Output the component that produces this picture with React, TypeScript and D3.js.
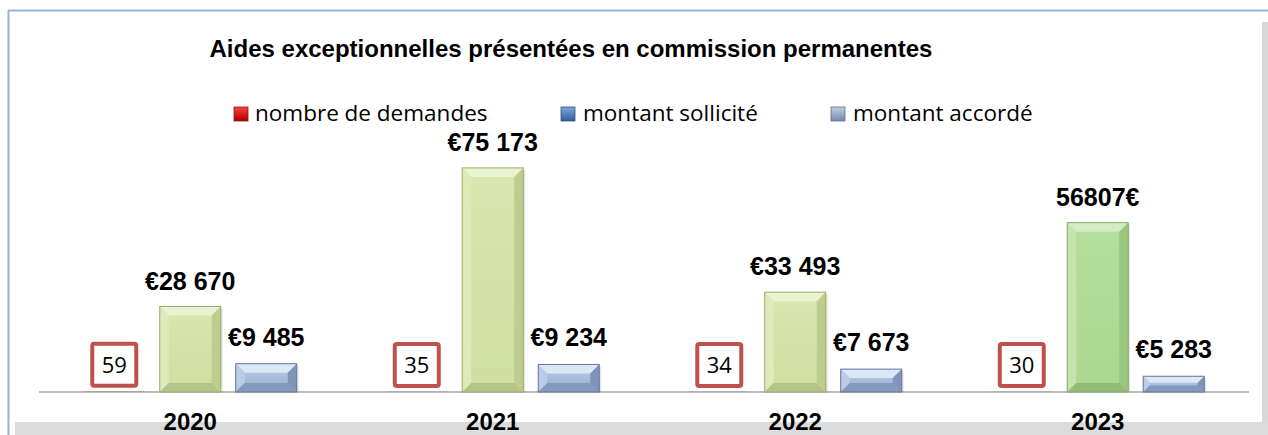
import { scaleBand, scaleLinear } from "d3";

const years = ["2020", "2021", "2022", "2023"];
const seriesNames = ["nombre de demandes", "montant sollicité", "montant accordé"];
const nombreDemandes = [59, 35, 34, 30];
const montantSollicite = [28670, 75173, 33493, 56807];
const montantAccorde = [9485, 9234, 7673, 5283];
const sollicitLabels = ["€28 670", "€75 173", "€33 493", "56807€"];
const accordeLabels = ["€9 485", "€9 234", "€7 673", "€5 283"];
const title = "Aides exceptionnelles présentées en commission permanentes";

const W = 1268;
const H = 435;
const baseY = 392;
const arial = "'Liberation Sans', Arial, sans-serif";
const body = "'Open Sans', 'Noto Sans', sans-serif";

type Pal = { top: string; left: string; right: string; bottom: string; grad: string; stroke: string };

const greenPal: Pal = { top: "#eaf2d2", left: "#dfeabb", right: "#bccd8e", bottom: "#b3c486", grad: "url(#gGreen)", stroke: "#9aad6c" };
const green23Pal: Pal = { top: "#d4ecc2", left: "#c4e4ad", right: "#9cc57f", bottom: "#93bc76", grad: "url(#gGreen23)", stroke: "#86ad6a" };
const bluePal: Pal = { top: "#dde8f7", left: "#bccbe6", right: "#8093b8", bottom: "#8599bf", grad: "url(#gBlue)", stroke: "#63779c" };

function BevelBar({ x, y, w, h, pal }: { x: number; y: number; w: number; h: number; pal: Pal }) {
  if (h <= 0.5) return null;
  const b = Math.min(9, h / 2.4, w / 2);
  const p = (pts: number[][]) => pts.map((q) => q.join(",")).join(" ");
  return (
    <g>
      <rect x={x + 2} y={y + 2} width={w} height={h - 2} fill="#000" opacity={0.1} />
      <rect x={x} y={y} width={w} height={h} fill={pal.grad} />
      <polygon points={p([[x, y], [x + w, y], [x + w - b, y + b], [x + b, y + b]])} fill={pal.top} />
      <polygon points={p([[x, y], [x + b, y + b], [x + b, y + h - b], [x, y + h]])} fill={pal.left} />
      <polygon points={p([[x + w, y], [x + w, y + h], [x + w - b, y + h - b], [x + w - b, y + b]])} fill={pal.right} />
      <polygon points={p([[x, y + h], [x + w, y + h], [x + w - b, y + h - b], [x + b, y + h - b]])} fill={pal.bottom} />
      <rect x={x} y={y} width={w} height={h} fill="none" stroke={pal.stroke} strokeWidth={1} />
    </g>
  );
}

export default function App() {
  const x0 = scaleBand<string>().domain(years).range([39, 1249]).padding(0);
  const x1 = scaleBand<string>()
    .domain(seriesNames)
    .range([0, x0.bandwidth()])
    .paddingInner(0.197)
    .paddingOuter(0.589);
  const y = scaleLinear().domain([0, 80000]).range([baseY, 153.5]);
  const bw = x1.bandwidth();

  const legendItems = [
    { name: seriesNames[0], sx: 234, tx: 255, fill: "url(#lRed)", stroke: "#8b1a1a" },
    { name: seriesNames[1], sx: 561, tx: 583, fill: "url(#lBlue)", stroke: "#2f5688" },
    { name: seriesNames[2], sx: 831, tx: 853, fill: "url(#lGray)", stroke: "#5d6f93" },
  ];

  return (
    <svg width={W} height={H} style={{ position: "absolute", left: 0, top: 0, background: "#fff" }}>
      <defs>
        <linearGradient id="gGreen" x1="0" y1="0" x2="0" y2="1">
          <stop offset="0" stopColor="#d9e6b0" />
          <stop offset="1" stopColor="#cfdea0" />
        </linearGradient>
        <linearGradient id="gGreen23" x1="0" y1="0" x2="0" y2="1">
          <stop offset="0" stopColor="#b6de9c" />
          <stop offset="1" stopColor="#acd690" />
        </linearGradient>
        <linearGradient id="gBlue" x1="0" y1="0" x2="0" y2="1">
          <stop offset="0" stopColor="#c0d0ea" />
          <stop offset="1" stopColor="#95a9cc" />
        </linearGradient>
        <linearGradient id="lRed" x1="0" y1="0" x2="0" y2="1">
          <stop offset="0" stopColor="#ff4040" />
          <stop offset="1" stopColor="#a80000" />
        </linearGradient>
        <linearGradient id="lBlue" x1="0" y1="0" x2="0" y2="1">
          <stop offset="0" stopColor="#7fa8dc" />
          <stop offset="1" stopColor="#2f5f9c" />
        </linearGradient>
        <linearGradient id="lGray" x1="0" y1="0" x2="0" y2="1">
          <stop offset="0" stopColor="#c3cfe6" />
          <stop offset="1" stopColor="#7587ad" />
        </linearGradient>
      </defs>

      {/* frame and shadow */}
      <rect x={1262} y={22} width={6} height={H - 22} fill="#d9d9d9" />
      <rect x={15} y={422} width={W - 15} height={H - 422} fill="#dcdcdc" />
      <line x1={8.5} y1={10} x2={8.5} y2={H} stroke="#95b3d7" strokeWidth={2} />
      <line x1={8} y1={10.5} x2={W} y2={10.5} stroke="#95b3d7" strokeWidth={2} />

      <text x={571} y={57} textAnchor="middle" fontFamily={arial} fontWeight="bold" fontSize={24} fill="#000">
        {title}
      </text>

      {legendItems.map((d) => (
        <g key={d.name}>
          <rect x={d.sx} y={107} width={14} height={14} fill={d.fill} stroke={d.stroke} strokeWidth={0.8} />
          <text x={d.tx} y={121} fontFamily={body} fontSize={22.5} fill="#000">
            {d.name}
          </text>
        </g>
      ))}

      <line x1={39} y1={baseY} x2={1249} y2={baseY} stroke="#a6a6a6" strokeWidth={1.5} />

      {years.map((yr, i) => {
        const gx = x0(yr) ?? 0;
        const rx = gx + (x1(seriesNames[0]) ?? 0);
        const sx = gx + (x1(seriesNames[1]) ?? 0);
        const ax = gx + (x1(seriesNames[2]) ?? 0);
        const ry = y(nombreDemandes[i]);
        const sy = y(montantSollicite[i]);
        const ay = y(montantAccorde[i]);
        const rc = rx + bw / 2;
        return (
          <g key={yr}>
            <rect x={rx} y={ry} width={bw} height={baseY - ry} fill="#c00000" />
            <BevelBar x={sx} y={sy} w={bw} h={baseY - sy} pal={i === years.length - 1 ? green23Pal : greenPal} />
            <BevelBar x={ax} y={ay} w={bw} h={baseY - ay} pal={bluePal} />

            <rect x={rc - 22} y={ry - 48} width={44} height={42} rx={2} fill="#fff" stroke="#c0504d" strokeWidth={4} />
            <text x={rc} y={ry - 19} textAnchor="middle" fontFamily={body} fontSize={22} fill="#000">
              {nombreDemandes[i]}
            </text>

            <text x={sx + bw / 2} y={sy - 17} textAnchor="middle" fontFamily={arial} fontWeight="bold" fontSize={25} fill="#000">
              {sollicitLabels[i]}
            </text>
            <text x={ax + bw / 2} y={ay - 18} textAnchor="middle" fontFamily={arial} fontWeight="bold" fontSize={25} fill="#000">
              {accordeLabels[i]}
            </text>

            <text x={gx + x0.bandwidth() / 2} y={430} textAnchor="middle" fontFamily={arial} fontWeight="bold" fontSize={24} fill="#000">
              {yr}
            </text>
          </g>
        );
      })}
    </svg>
  );
}
